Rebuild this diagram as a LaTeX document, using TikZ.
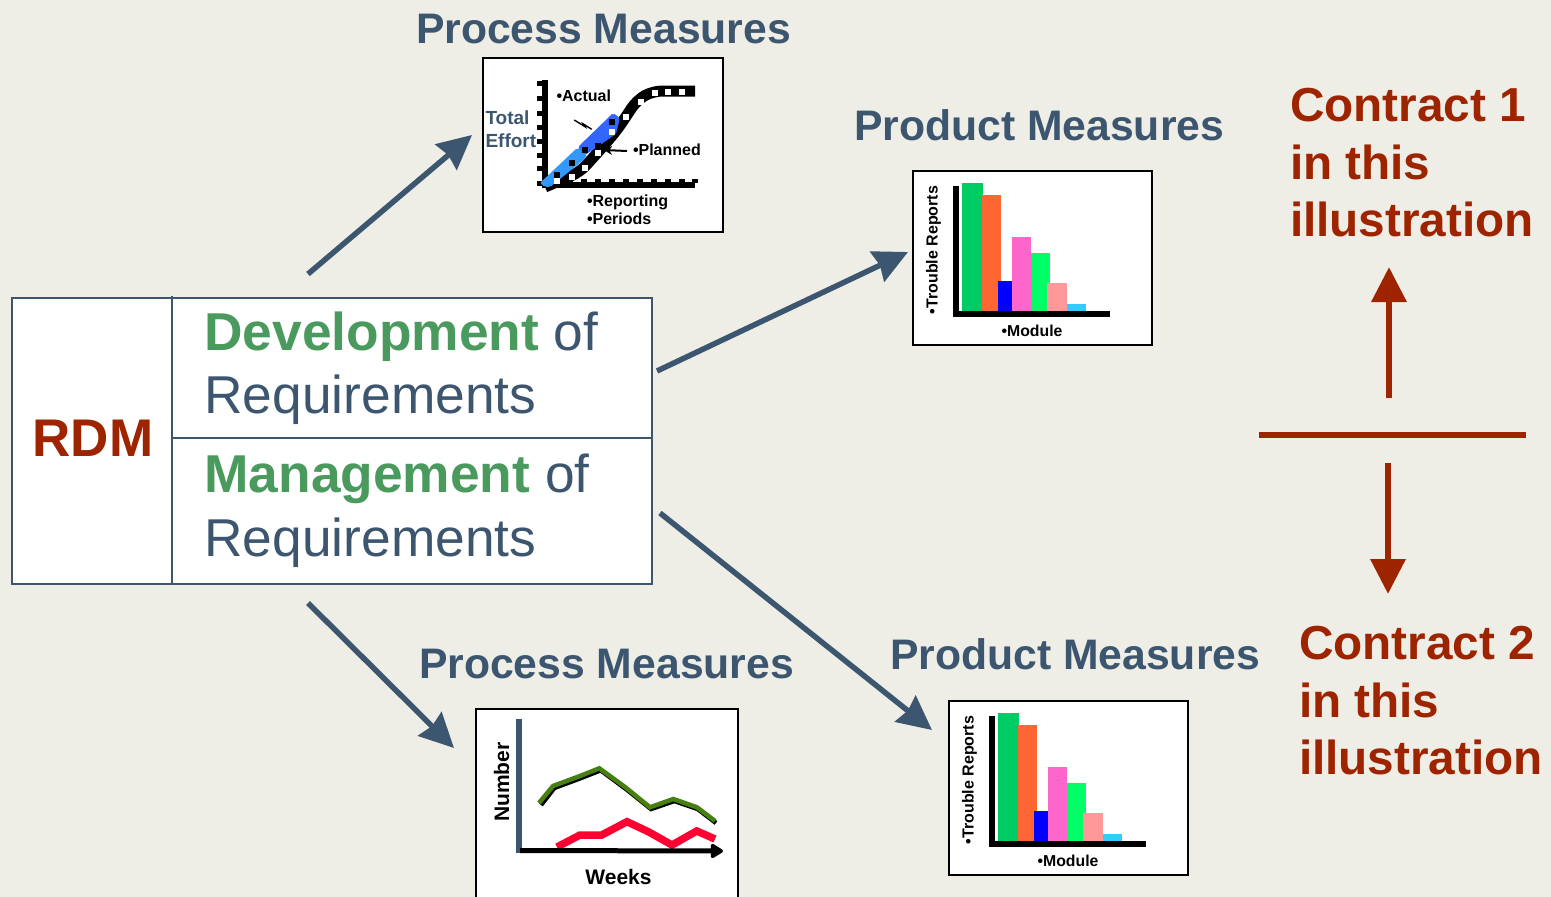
\documentclass[tikz,border=0pt]{standalone}
\usepackage{fontspec}
\setmainfont{Liberation Sans}
\usetikzlibrary{arrows.meta}
\definecolor{bgc}{HTML}{EEEDE6}
\definecolor{slate}{HTML}{3D5670}
\definecolor{grn}{HTML}{4A9A5E}
\definecolor{rust}{HTML}{9E2400}
\definecolor{HTML00CC66}{HTML}{00CC66}
\definecolor{HTMLFF6633}{HTML}{FF6633}
\definecolor{HTML0000FF}{HTML}{0000FF}
\definecolor{HTMLFF66CC}{HTML}{FF66CC}
\definecolor{HTML00FF66}{HTML}{00FF66}
\definecolor{HTMLFF9999}{HTML}{FF9999}
\definecolor{HTML33CCFF}{HTML}{33CCFF}
\definecolor{lightblue}{HTML}{3399FF}
\definecolor{midblue}{HTML}{3366FF}
\definecolor{crimson}{HTML}{FF0033}
\definecolor{olive}{HTML}{468010}
\newcommand{\fs}[1]{\fontsize{#1}{#1}\selectfont}
\tikzset{
  txt/.style={anchor=base west,inner sep=0pt,outer sep=0pt},
  head/.style={txt,text=slate,font=\fs{42.7}\bfseries},
  big/.style={txt,text=slate,font=\fs{53.3}},
  contract/.style={txt,text=rust,font=\fs{47.7}\bfseries},
  small/.style={txt,text=black,font=\fs{16}\bfseries},
  cell/.style={draw=slate,line width=2pt,fill=white},
  chartbox/.style={draw=black,line width=2.4pt,fill=white},
  bluearrow/.style={draw=slate,line width=5.5pt,-{Stealth[length=34pt,width=33pt,inset=3pt]}},
  redarrow/.style={draw=rust,line width=6.5pt,-{Triangle[length=35pt,width=34pt]}},
  barchart/.pic={
    \fill[white] (913,171) rectangle (1152,345);
    \draw[chartbox] (913,171) rectangle (1152,345);
    \fill[black] (953,186) rectangle (958.5,316.5);
    \fill[black] (956,310.5) rectangle (1110,316.5);
    \fill[HTML00CC66] (962,183) rectangle (983,311);
    \fill[HTMLFF6633] (981.7,195) rectangle (1001,311);
    \fill[HTML0000FF] (998,281) rectangle (1012,311);
    \fill[HTMLFF66CC] (1012,237) rectangle (1031,311);
    \fill[HTML00FF66] (1031,253) rectangle (1050,311);
    \fill[HTMLFF9999] (1047,283) rectangle (1067,311);
    \fill[HTML33CCFF] (1067,304) rectangle (1086,311);
    \node[small,rotate=90,anchor=base,font=\fs{16}\bfseries] (-yl) at (937.5,250) {•Trouble Reports};
    \node[small,anchor=base,font=\fs{15.8}\bfseries] (-xl) at (1032,336) {•Module};
  }
}
\begin{document}
\begin{tikzpicture}[x=1pt,y=-1pt]
\useasboundingbox (0,0) rectangle (1551,897);
\fill[bgc] (0,0) rectangle (1551,897);

% table
\draw[cell] (12,298) rectangle (652,584);
\draw[slate,line width=2pt] (172,296) -- (172,584);
\draw[slate,line width=2pt] (172,438) -- (652,438);
\node[txt,text=rust,font=\fs{53}\bfseries] (rdm) at (32.5,456) {RDM};
\node[big] (dev) at (204.5,350) {\textcolor{grn}{\bfseries Development} of};
\node[big] (req1) at (204.5,413) {Requirements};
\node[big] (man) at (204.5,492) {\textcolor{grn}{\bfseries Management} of};
\node[big] (req2) at (204.5,556) {Requirements};

% headings
\node[head] (pm1) at (416,43) {Process Measures};
\node[head] (pm2) at (419,678) {Process Measures};
\node[head] (pd1) at (854,140) {Product Measures};
\node[head] (pd2) at (890,669) {Product Measures};

% process chart 1
\draw[chartbox,fill=white] (483,58) rectangle (723,232);
\fill[black] (542,80) rectangle (547.5,187.5);
\foreach \yy in {80.5,95.5,110.5,124.5,138.5,152.5,165.5,180.5}
  \fill[black] (537,\yy) rectangle (542.5,\yy+5.5);
\fill[black] (542,182) rectangle (695,187.5);
\foreach \xx in {570,584,598,612,626,640,654,668,682,695}
  \fill[black] (\xx-3,178.5) rectangle (\xx+3,183);
\draw[black,line width=11pt,rounded corners=9pt] (545,187) -- (580,172) -- (600,150) -- (617,130) -- (637,100) -- (653,91) -- (695,91);
\fill[lightblue,rounded corners=2pt] (540,183) -- (577,148) -- (586,150) -- (586,158) -- (550,187) -- (545,187) -- cycle;
\fill[midblue,rounded corners=2pt] (578,147) -- (611,115) -- (613,113) -- (620,118) -- (616,134) -- (600,145) -- (585,155) -- cycle;
\foreach \px/\py in {557.3/181,571.7/176.7,585/167.7,598.3/152.7,611.7/132.3,626/116.7,640.7/101.7,655/93.3,668.3/91.7,682.3/91.7}
  \fill[white] (\px-3,\py-3) rectangle (\px+3,\py+3);
\foreach \px/\py in {557.3/175.3,571.7/163.3,585/150,598.3/146,611.7/122}
  \fill[black] (\px-3,\py-3) rectangle (\px+3,\py+3);
\coordinate (plS) at (627,151);
\coordinate (plE) at (604,150);
\draw[black,line width=2pt,-{Stealth[length=8pt,width=9pt]}] (plS) -- (plE);
\draw[black,line width=1.4pt] (574.3,120) -- (585,126.7) -- (583.3,124) -- (591.7,129.3);
\node[small] (actual) at (556.5,101) {•Actual};
\node[small] (planned) at (633,155) {•Planned};
\node[small] (rep) at (587,206) {•Reporting};
\node[small] (per) at (587,224) {•Periods};
\node[txt,text=slate,font=\fs{19}\bfseries] (tot) at (485.5,124) {Total};
\node[txt,text=slate,font=\fs{19}\bfseries] (eff) at (485.5,147) {Effort};

% process chart 2
\draw[black,line width=2.4pt,fill=white] (476,897) -- (476,709) -- (738,709) -- (738,897);
\draw[crimson,line width=7.5pt] (557,847) -- (580,835) -- (601.7,835) -- (627,821.7) -- (648.3,831.7) -- (672,845) -- (696.7,831) -- (715,839);
\draw[black,line width=4.5pt] (541,805) -- (554.3,788) -- (581,778) -- (600.7,770.3) -- (626,789) -- (651,809) -- (674.3,801) -- (697.7,809) -- (716,823);
\draw[olive,line width=4.5pt] (539,803) -- (553,786) -- (580,776) -- (599.3,768.3) -- (625,787) -- (650,807.3) -- (673.3,799) -- (697,807.3) -- (715,821);
\fill[slate] (516,719) rectangle (522,852.5);
\coordinate (wkS) at (520,850.5);
\coordinate (wkE) at (723,851);
\draw[black,line width=5pt,-{Triangle[length=14pt,width=16pt,round]}] (wkS) -- (wkE);
\node[txt,anchor=base,rotate=90,font=\fs{21}\bfseries] (num) at (509,782) {Number};
\node[txt,anchor=base,font=\fs{21}\bfseries] (wk) at (618.5,884) {Weeks};

% bar charts
\pic (c1) at (0,0) {barchart};
\pic (c2) at (36,530) {barchart};

% arrows
\coordinate (a1) at (308,274); \coordinate (b1) at (472,135);
\coordinate (a2) at (657,371); \coordinate (b2) at (908,252);
\coordinate (a3) at (660,513); \coordinate (b3) at (932,730);
\coordinate (a4) at (308,603); \coordinate (b4) at (454,748);
\draw[bluearrow] (a1) -- (b1);
\draw[bluearrow] (a2) -- (b2);
\draw[bluearrow] (a3) -- (b3);
\draw[bluearrow] (a4) -- (b4);

% right side
\coordinate (d1) at (1259,435); \coordinate (d2) at (1526,435);
\draw[rust,line width=6.5pt] (d1) -- (d2);
\coordinate (u1) at (1389,398); \coordinate (u2) at (1389,267);
\coordinate (v1) at (1388,463); \coordinate (v2) at (1388,594);
\draw[redarrow] (u1) -- (u2);
\draw[redarrow] (v1) -- (v2);
\node[contract] (c1a) at (1290,121) {Contract 1};
\node[contract] (c1b) at (1290,179) {in this};
\node[contract] (c1c) at (1290,236) {illustration};
\node[contract] (c2a) at (1299,659) {Contract 2};
\node[contract] (c2b) at (1299,717) {in this};
\node[contract] (c2c) at (1299,774) {illustration};
\end{tikzpicture}
\end{document}
